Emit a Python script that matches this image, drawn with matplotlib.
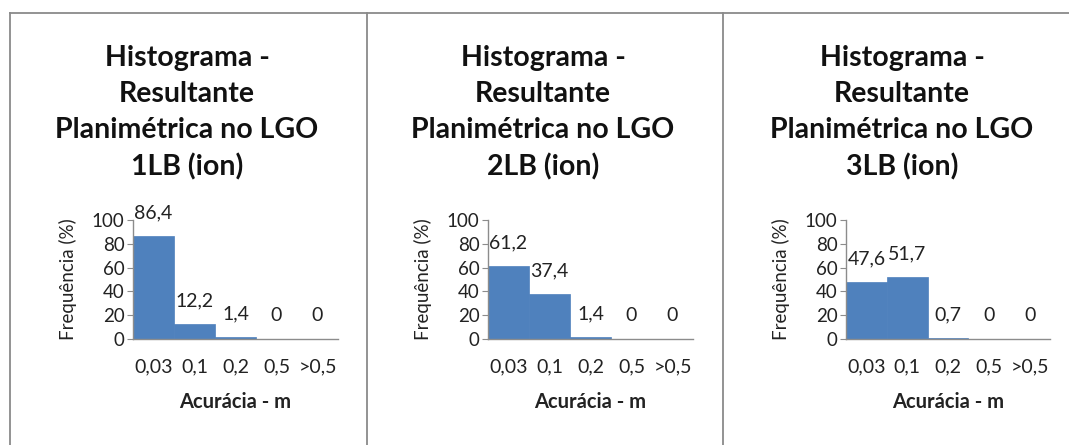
import matplotlib
matplotlib.use("Agg")
import matplotlib.pyplot as plt
from matplotlib.lines import Line2D

plt.rcParams['font.family'] = ['Lato', 'DejaVu Sans']

categories = ["0,03", "0,1", "0,2", "0,5", ">0,5"]
freq_1lb = [86.4, 12.2, 1.4, 0, 0]
freq_2lb = [61.2, 37.4, 1.4, 0, 0]
freq_3lb = [47.6, 51.7, 0.7, 0, 0]
value_labels_1lb = ["86,4", "12,2", "1,4", "0", "0"]
value_labels_2lb = ["61,2", "37,4", "1,4", "0", "0"]
value_labels_3lb = ["47,6", "51,7", "0,7", "0", "0"]
titles = [
    "Histograma -\nResultante\nPlanimétrica no LGO\n1LB (ion)",
    "Histograma -\nResultante\nPlanimétrica no LGO\n2LB (ion)",
    "Histograma -\nResultante\nPlanimétrica no LGO\n3LB (ion)",
]
y_ticks = [0, 20, 40, 60, 80, 100]

W, H = 1069, 445
fig = plt.figure(figsize=(W / 100, H / 100), dpi=100)
fig.patch.set_facecolor("white")

BAR = "#4F81BD"
AXIS = "#8C8C8C"
FRAME = "#8A8A8A"
TXT = "#222222"

# panel frame lines (top rule + left separators)
fig.add_artist(Line2D([10 / W, 1.0], [1 - 13 / H, 1 - 13 / H], color=FRAME, lw=1.3))
for xs in (10, 367, 723):
    fig.add_artist(Line2D([xs / W, xs / W], [0, 1 - 13 / H], color=FRAME, lw=1.3))

panels = [
    (freq_1lb, value_labels_1lb, titles[0], 133, 338, 187),
    (freq_2lb, value_labels_2lb, titles[1], 488, 693, 543),
    (freq_3lb, value_labels_3lb, titles[2], 846, 1050, 902),
]

top_px, bot_px = 220, 339
for vals, vlabels, title, x0, x1, cx in panels:
    ax = fig.add_axes([x0 / W, 1 - bot_px / H, (x1 - x0) / W, (bot_px - top_px) / H])
    xs = range(len(categories))
    ax.bar(xs, vals, width=1.0, color=BAR, edgecolor=BAR, linewidth=0.5)
    ax.set_xlim(-0.5, len(categories) - 0.5)
    ax.set_ylim(0, 100)
    ax.set_yticks(y_ticks)
    ax.set_xticks(list(xs))
    ax.set_xticklabels(categories)
    for s in ("top", "right"):
        ax.spines[s].set_visible(False)
    for s in ("left", "bottom"):
        ax.spines[s].set_color(AXIS)
        ax.spines[s].set_linewidth(1.0)
    ax.tick_params(axis="y", length=4, color=AXIS, labelsize=13.5, pad=2, labelcolor=TXT)
    ax.tick_params(axis="x", length=0, labelsize=14, pad=14, labelcolor=TXT)
    ax.set_facecolor("none")
    for i, (v, t) in enumerate(zip(vals, vlabels)):
        ax.annotate(t, (i, v), xytext=(0, 17), textcoords="offset points",
                    ha="center", va="center", fontsize=14, color=TXT)
    ax.set_xlabel("Acurácia - m", fontsize=14.5, fontweight="bold", color=TXT, labelpad=12)
    ax.set_ylabel("Frequência (%)", fontsize=13.5, color=TXT, labelpad=11)
    fig.text(cx / W, 1 - 113 / H, title, ha="center", va="center", fontsize=20.5,
             fontweight="bold", color="#111111", linespacing=1.47)

fig.savefig("out.png", dpi=100, facecolor="white")
